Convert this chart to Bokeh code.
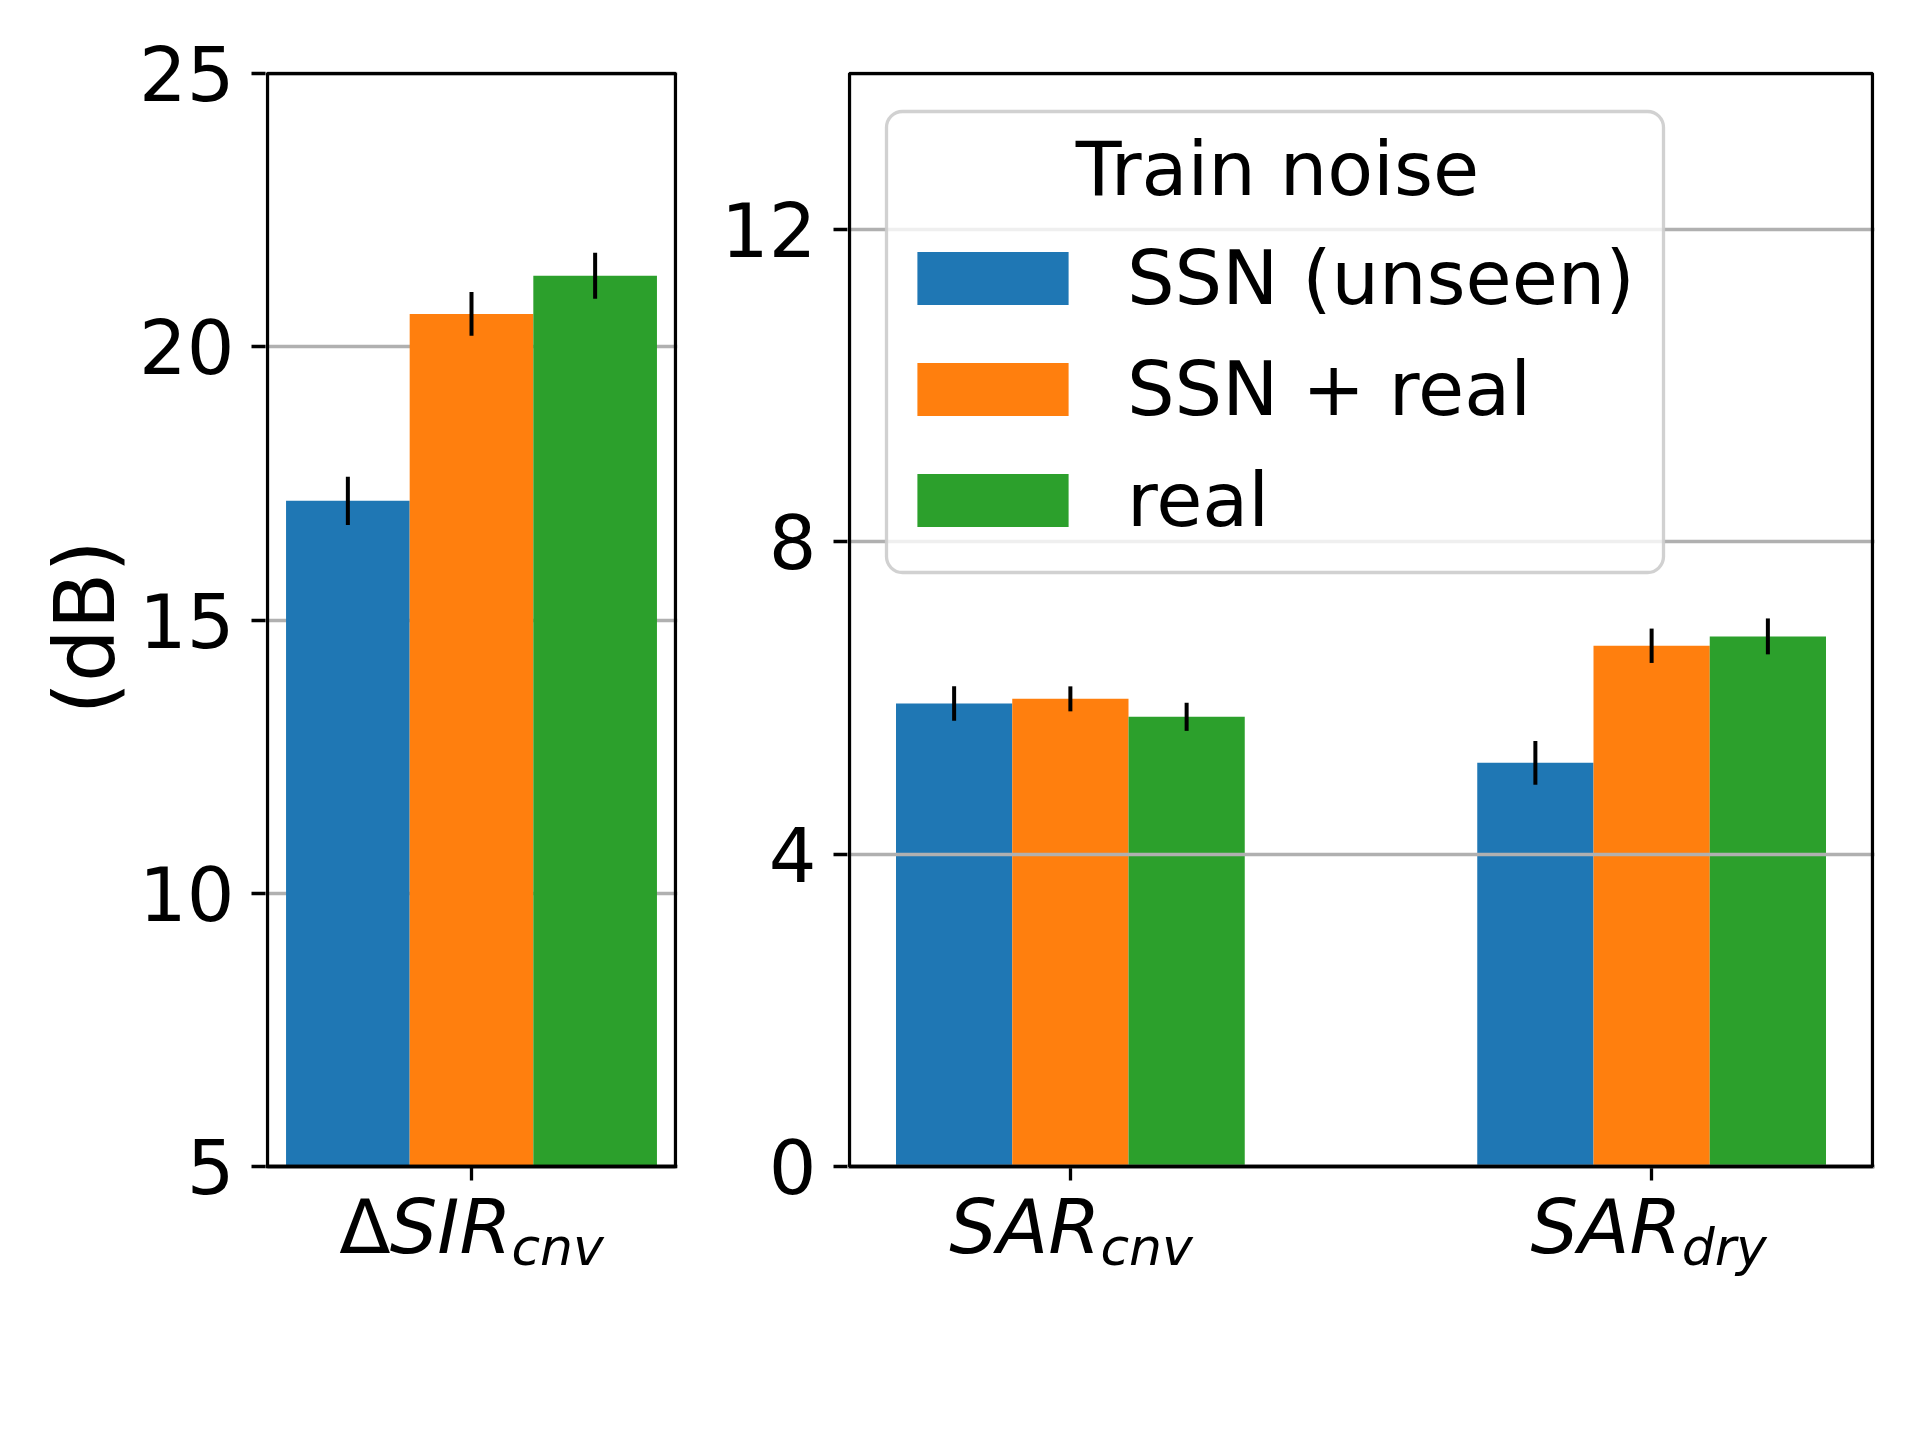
from bokeh.plotting import figure
from bokeh.models import (Range1d, FixedTicker, Label, Legend, LegendItem,
                          BoxAnnotation, Title)
from bokeh.core.properties import value
from bokeh.layouts import row
from bokeh.embed import file_html
from bokeh.resources import INLINE

# ---------------- data ----------------
series = ["SSN (unseen)", "SSN + real", "real"]
colors = ["#1f77b4", "#ff7f0e", "#2ca02c"]

left_categories = ["ΔSIR_cnv"]
sir_cnv_mean = [17.18, 20.60, 21.30]
sir_cnv_err = [0.44, 0.40, 0.42]

right_categories = ["SAR_cnv", "SAR_dry"]
sar_cnv_mean = [5.93, 5.99, 5.76]
sar_cnv_err = [0.22, 0.16, 0.18]
sar_dry_mean = [5.17, 6.67, 6.79]
sar_dry_err = [0.28, 0.22, 0.23]

left_yticks = [5, 10, 15, 20, 25]
right_yticks = [0, 4, 8, 12]
left_xlim, left_ylim = (-0.33, 0.33), (5, 25)
right_xlim, right_ylim = (-0.38, 1.38), (0, 14)

# tick-label pieces: (upright prefix, italic main, italic subscript)
left_label_parts = [("Δ", "SIR", "cnv")]
right_label_parts = [("", "SAR", "cnv"), ("", "SAR", "dry")]

# ---------------- styling ----------------
FONT = "DejaVu Sans"
TICK_FS = "75px"
bar_width = 0.2
group_offsets = [-0.2, 0.0, 0.2]
LW = 3.3
PAD = 2            # frame padding around the axes box (px)
LAB = 130          # room under the axes box for category labels (px)
BOX_H = 1093
TOP = 71


def make_panel(xlim, ylim, box_w, border_left, border_right, yticks, xticks):
    kx = (xlim[1] - xlim[0]) / box_w
    ky = (ylim[1] - ylim[0]) / BOX_H
    p = figure(output_backend="svg", toolbar_location=None,
               frame_width=box_w + 2 * PAD, frame_height=BOX_H + PAD + LAB,
               min_border_left=border_left, min_border_right=border_right,
               min_border_top=TOP, min_border_bottom=8,
               x_range=Range1d(xlim[0] - PAD * kx, xlim[1] + PAD * kx),
               y_range=Range1d(ylim[0] - LAB * ky, ylim[1] + PAD * ky))
    p.outline_line_color = None
    p.background_fill_color = "white"
    p.border_fill_color = "white"
    # y axis: ticks + labels only (spine drawn by the box)
    ya = p.yaxis[0]
    ya.ticker = FixedTicker(ticks=yticks)
    ya.axis_line_color = None
    ya.major_tick_line_width = LW
    ya.major_tick_line_color = "black"
    ya.major_tick_out = 14
    ya.major_tick_in = 0
    ya.minor_tick_line_color = None
    ya.major_label_text_font = FONT
    ya.major_label_text_font_size = TICK_FS
    ya.major_label_text_color = "black"
    ya.major_label_standoff = 17
    # x axis sits on the bottom of the box
    xa = p.xaxis[0]
    xa.fixed_location = ylim[0]
    xa.ticker = FixedTicker(ticks=xticks)
    xa.axis_line_color = "black"
    xa.axis_line_width = LW
    xa.major_tick_line_width = LW
    xa.major_tick_line_color = "black"
    xa.major_tick_out = 14
    xa.major_tick_in = 0
    xa.minor_tick_line_color = None
    xa.major_label_overrides = {t: "" for t in xticks}
    xa.major_label_text_color = None
    p.xgrid.grid_line_color = None
    p.ygrid.grid_line_color = "#b0b0b0"
    p.ygrid.grid_line_width = LW
    p.add_layout(BoxAnnotation(left=xlim[0], right=xlim[1], bottom=ylim[0], top=ylim[1],
                               fill_color=None, fill_alpha=0,
                               line_color="black", line_width=LW, line_alpha=1.0))
    return p


def add_bars(p, cat_index, means, errs, base):
    rs = []
    for i in range(len(series)):
        x = cat_index + group_offsets[i]
        r = p.vbar(x=[x], top=[means[i]], bottom=base, width=bar_width,
                   fill_color=colors[i], line_color=None)
        p.segment(x0=[x], y0=[means[i] - errs[i]], x1=[x], y1=[means[i] + errs[i]],
                  line_color="black", line_width=4)
        rs.append(r)
    return rs


def add_tick_text(p, y0, cat_index, parts, main_dx, delta_dx):
    prefix, main, sub = parts
    common = dict(text_font=value(FONT), text_color="black",
                  text_baseline=value("alphabetic"))
    if prefix:
        p.text(x=[cat_index], y=[y0], text=[prefix], x_offset=delta_dx, y_offset=60,
               text_align=value("right"), text_font_style=value("normal"),
               text_font_size=value("75px"), **common)
    p.text(x=[cat_index], y=[y0], text=[main], x_offset=main_dx, y_offset=60,
           text_align=value("right"), text_font_style=value("italic"),
           text_font_size=value("75px"), **common)
    p.text(x=[cat_index], y=[y0], text=[sub], x_offset=main_dx, y_offset=80,
           text_align=value("left"), text_font_style=value("italic"),
           text_font_size=value("52px"), **common)


# ---------------- left panel ----------------
p1 = make_panel(left_xlim, left_ylim, 408, 265, 18, left_yticks, [0])
add_bars(p1, 0, sir_cnv_mean, sir_cnv_err, left_ylim[0])
for i, parts in enumerate(left_label_parts):
    add_tick_text(p1, left_ylim[0], i, parts, main_dx=40, delta_dx=-81)
p1.add_layout(Title(text="(dB)", align="left", offset=582, standoff=6,
                    text_font=FONT, text_font_size="83px",
                    text_font_style="normal", text_color="black"), "left")

# ---------------- right panel ----------------
p2 = make_panel(right_xlim, right_ylim, 1023, 152, 18, right_yticks, [0, 1])
p2.ygrid.level = "guide"
r_cnv = add_bars(p2, 0, sar_cnv_mean, sar_cnv_err, right_ylim[0])
add_bars(p2, 1, sar_dry_mean, sar_dry_err, right_ylim[0])
for i, parts in enumerate(right_label_parts):
    add_tick_text(p2, right_ylim[0], i, parts, main_dx=30, delta_dx=0)

# legend frame + title + entries (screen px from the frame's bottom-left)
p2.add_layout(BoxAnnotation(left=39, right=816, top=1185, bottom=724,
                            left_units="screen", right_units="screen",
                            top_units="screen", bottom_units="screen",
                            fill_color="white", fill_alpha=0.8,
                            line_color="#cccccc", line_width=LW, line_alpha=0.9,
                            border_radius=16))
legend = Legend(items=[LegendItem(label=s, renderers=[r]) for s, r in zip(series, r_cnv)],
                location=(51, 752), orientation="vertical",
                glyph_width=189, glyph_height=66, label_standoff=40,
                padding=0, margin=0, spacing=23,
                border_line_color=None, background_fill_alpha=0,
                label_text_font=FONT, label_text_font_size="75px",
                label_text_color="black")
p2.add_layout(legend, "center")
p2.add_layout(Label(x=430, y=1128, x_units="screen", y_units="screen",
                    text="Train noise", text_font=FONT, text_font_size="75px",
                    text_align="center", text_baseline="alphabetic",
                    text_color="black"))

layout = row(p1, p2)
open("out.html", "w").write(file_html(layout, INLINE))
